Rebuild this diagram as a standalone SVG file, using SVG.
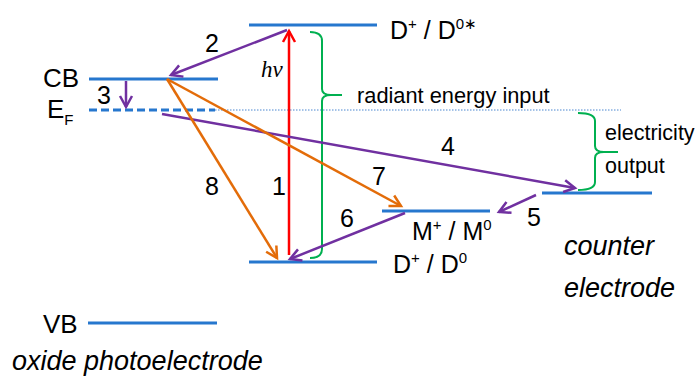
<svg xmlns="http://www.w3.org/2000/svg" width="697" height="376" viewBox="0 0 697 376">
<style>
.lvl{stroke:#2677CE;stroke-width:3;fill:none}
.t{font-family:"Liberation Sans",Arial,sans-serif;fill:#000}
.it{font-family:"Liberation Sans",Arial,sans-serif;font-style:italic;fill:#000}
.pu{stroke:#7030A0;stroke-width:2.5;fill:none}
.or{stroke:#E36C09;stroke-width:2.5;fill:none}
.rd{stroke:#FF0000;stroke-width:2.5;fill:none}
.gr{stroke:#00B050;stroke-width:2;fill:none}
</style>
<defs>
<marker id="mp" markerUnits="userSpaceOnUse" markerWidth="24" markerHeight="24" viewBox="-14 -12 24 24" refX="0" refY="0" orient="auto"><path d="M-11,-6 L0,0 L-11,6" fill="none" stroke="#7030A0" stroke-width="2.5"/></marker>
<marker id="mo" markerUnits="userSpaceOnUse" markerWidth="24" markerHeight="24" viewBox="-14 -12 24 24" refX="0" refY="0" orient="auto"><path d="M-11,-6 L0,0 L-11,6" fill="none" stroke="#E36C09" stroke-width="2.5"/></marker>
<marker id="mr" markerUnits="userSpaceOnUse" markerWidth="24" markerHeight="24" viewBox="-14 -12 24 24" refX="0" refY="0" orient="auto"><path d="M-11,-6 L0,0 L-11,6" fill="none" stroke="#FF0000" stroke-width="2.5"/></marker>
</defs>
<rect width="697" height="376" fill="#fff"/>

<g id="level-Dstar">
<line class="lvl" x1="249" y1="25" x2="377" y2="25"/>
<text class="t" x="390" y="39" font-size="25">D<tspan dy="-10" font-size="15">+</tspan><tspan dy="10"> / D</tspan><tspan dy="-10" font-size="15">0∗</tspan></text>
</g>
<g id="level-CB">
<line class="lvl" x1="89" y1="79" x2="218" y2="79"/>
<text class="t" x="43" y="87" font-size="26">CB</text>
</g>
<g id="level-EF">
<line class="lvl" x1="89" y1="110" x2="215" y2="110" stroke-dasharray="8 4"/>
<line x1="215" y1="110" x2="621" y2="110" stroke="#4A86D0" stroke-width="1" stroke-dasharray="1.5 1.5"/>
<text class="t" x="47" y="118" font-size="26">E<tspan font-size="15" dy="7">F</tspan></text>
</g>
<g id="level-M">
<line class="lvl" x1="382" y1="211" x2="490" y2="211"/>
<text class="t" x="412" y="240" font-size="25">M<tspan dy="-10" font-size="15">+</tspan><tspan dy="10"> / M</tspan><tspan dy="-10" font-size="15">0</tspan></text>
</g>
<g id="level-counter">
<line class="lvl" x1="542" y1="193" x2="652" y2="193"/>
<text class="it" x="564" y="255" font-size="27">counter</text>
<text class="it" x="564" y="297" font-size="27">electrode</text>
</g>
<g id="level-D">
<line class="lvl" x1="249" y1="262" x2="377" y2="262"/>
<text class="t" x="393" y="273" font-size="25">D<tspan dy="-10" font-size="15">+</tspan><tspan dy="10"> / D</tspan><tspan dy="-10" font-size="15">0</tspan></text>
</g>
<g id="level-VB">
<line class="lvl" x1="88" y1="323" x2="217" y2="323"/>
<text class="t" x="43" y="333" font-size="26">VB</text>
<text class="it" x="12" y="370" font-size="27">oxide photoelectrode</text>
</g>
<g id="brace-radiant">
<path class="gr" d="M310,32 Q322,32 322,41 L322,89 Q322,95 331,95 L342,95 M331,95 Q322,95 322,101 L322,249 Q322,258 310,258"/>
<text class="t" x="357" y="103" font-size="21.8">radiant energy input</text>
</g>
<g id="brace-electricity">
<path class="gr" d="M578,113 Q595,113 595,121 L595,146 Q595,152 604,152 L618,152 M604,152 Q595,152 595,158 L595,182 Q595,190 578,190"/>
<text class="t" x="605" y="140" font-size="21.5">electricity</text>
<text class="t" x="605" y="173" font-size="21.5">output</text>
</g>

<g id="connectors">
<line class="rd" x1="289" y1="255" x2="289" y2="31" marker-end="url(#mr)"/>
<line class="pu" x1="287" y1="30" x2="171" y2="75" marker-end="url(#mp)"/>
<line class="pu" x1="126" y1="81" x2="126" y2="107" marker-end="url(#mp)"/>
<line class="pu" x1="162" y1="114" x2="575" y2="188" marker-end="url(#mp)"/>
<line class="pu" x1="536" y1="195" x2="499" y2="212" marker-end="url(#mp)"/>
<line class="pu" x1="405" y1="213" x2="290" y2="259" marker-end="url(#mp)"/>
<line class="or" x1="167" y1="79" x2="401" y2="206" marker-end="url(#mo)"/>
<line class="or" x1="167" y1="79" x2="277" y2="258" marker-end="url(#mo)"/>
</g>
<g id="labels">
<text x="261" y="77" font-size="23" style="font-family:'Liberation Serif',serif;font-style:italic">hν</text>
<text class="t" x="272" y="195" font-size="25">1</text>
<text class="t" x="205" y="52" font-size="25">2</text>
<text class="t" x="97" y="104" font-size="25">3</text>
<text class="t" x="441" y="155" font-size="25">4</text>
<text class="t" x="527" y="226" font-size="25">5</text>
<text class="t" x="340" y="227" font-size="25">6</text>
<text class="t" x="372" y="185" font-size="25">7</text>
<text class="t" x="205" y="195" font-size="25">8</text>
</g>
</svg>
